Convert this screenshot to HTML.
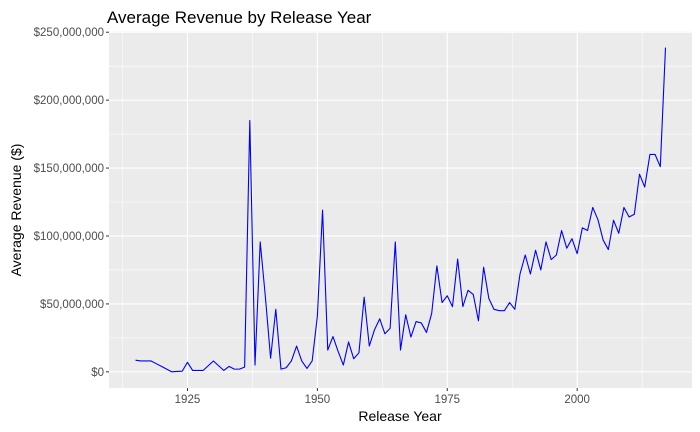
<!DOCTYPE html>
<html><head><meta charset="utf-8"><style>
body{margin:0;background:#fff;}
svg{display:block;font-family:"Liberation Sans",Arial,sans-serif;}
</style></head><body>
<svg id="chart" width="700" height="432">
<rect x="0" y="0" width="700" height="432" fill="#fff"/>
<text x="107" y="23" font-size="17" fill="#000">Average Revenue by Release Year</text>
<g id="panel"></g>
<text x="400" y="421" font-size="14" text-anchor="middle" fill="#000">Release Year</text>
<text transform="translate(21,210) rotate(-90)" font-size="14" text-anchor="middle" fill="#000">Average Revenue ($)</text>
</svg>
<script>
const years = [];
for (let y = 1915; y <= 2017; y++) years.push(y);
const revenueM = [8.6,8,8,8,6,4,2,0,0.3,0.5,7,1,1,1,4.5,8,4.5,1,4,2,2,3.5,185,5,95.6,55,10,46,2,3,8,19,8,2.5,8,41,119,16,26,15,5,22,9.6,14,55,19,31,39,28,32,95.6,16,42,25.6,37,36,29,43,78,51,56,48,83,48,60,57,37.6,77,54,46,45,45,51,46,72,86,72,89.5,75,95.6,82.6,86,104,91,98,87,106,104,121,112,97,90,111.6,102,121,114,116,145.5,136,160,160,151,238.7];
const xTicks = [1925,1950,1975,2000];
const xMinor = [1912.5,1937.5,1962.5,1987.5,2012.5];
const yTicks = [0,50,100,150,200,250];
const yTickLabels = ["$0","$50,000,000","$100,000,000","$150,000,000","$200,000,000","$250,000,000"];
const yMinor = [25,75,125,175,225];

const ns = "http://www.w3.org/2000/svg";
const P = {l:109, r:692, t:31.4, b:388};
const xMin = 1909.9, xMax = 2022.1, yMin = -11.9, yMax = 250.6;
const sx = v => P.l + (v - xMin) / (xMax - xMin) * (P.r - P.l);
const sy = v => P.b - (v - yMin) / (yMax - yMin) * (P.b - P.t);
const svg = document.getElementById('chart');
const g = document.getElementById('panel');
function mk(tag, attrs, parent) {
  const e = document.createElementNS(ns, tag);
  for (const k in attrs) e.setAttribute(k, attrs[k]);
  (parent || g).appendChild(e);
  return e;
}
let e = mk('rect', {x:P.l, y:P.t, width:P.r-P.l, height:P.b-P.t, fill:'#ebebeb'});


yMinor.forEach(v => {
  const l = mk('line', {x1:P.l, x2:P.r, y1:sy(v), y2:sy(v), stroke:'#fff', 'stroke-width':0.55});
  
  
});
xMinor.forEach(v => {
  const l = mk('line', {x1:sx(v), x2:sx(v), y1:P.t, y2:P.b, stroke:'#fff', 'stroke-width':0.55});
  
  
});
yTicks.forEach((v, i) => {
  const l = mk('line', {x1:P.l, x2:P.r, y1:sy(v), y2:sy(v), stroke:'#fff', 'stroke-width':1.1});
  
  
  const t = mk('line', {x1:P.l-3, x2:P.l, y1:sy(v), y2:sy(v), stroke:'#333', 'stroke-width':1}, svg);
  
  
  const tx = mk('text', {x:P.l-5, y:sy(v)+4, 'font-size':11.5, 'text-anchor':'end', fill:'#4d4d4d'}, svg);
  tx.textContent = yTickLabels[i];
  
  
});
xTicks.forEach(v => {
  const l = mk('line', {x1:sx(v), x2:sx(v), y1:P.t, y2:P.b, stroke:'#fff', 'stroke-width':1.1});
  
  
  const t = mk('line', {x1:sx(v), x2:sx(v), y1:P.b, y2:P.b+3, stroke:'#333', 'stroke-width':1}, svg);
  
  
  const tx = mk('text', {x:sx(v), y:P.b+15, 'font-size':11.5, 'text-anchor':'middle', fill:'#4d4d4d'}, svg);
  tx.textContent = v;
  
  
});
const d = years.map((yr, i) => (i ? 'L' : 'M') + sx(yr).toFixed(2) + ',' + sy(revenueM[i]).toFixed(2)).join('');
const line = mk('path', {d:d, fill:'none', stroke:'#0000ff', 'stroke-width':1.1, 'stroke-linejoin':'round'});


</script>
</body></html>
